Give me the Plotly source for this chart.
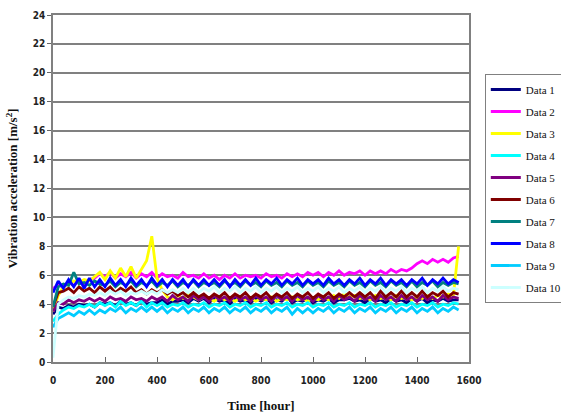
import plotly.graph_objects as go

# Time axis (hours), sampled every 20 h
time_h = list(range(0, 1561, 20))

data1 = [3.3, 3.8, 3.7, 3.9, 3.8, 4.0, 3.9, 4.0, 3.8, 4.1,
         4.0, 4.1, 3.9, 4.2, 4.0, 4.1, 3.9, 4.2, 4.0, 4.1,
         4.1, 4.3, 4.0, 4.2, 4.2, 4.3, 4.1, 4.4, 4.2, 4.4,
         4.1, 4.4, 4.2, 4.3, 4.0, 4.4, 4.2, 4.3, 4.1, 4.4,
         4.2, 4.4, 4.1, 4.3, 4.2, 4.5, 4.1, 4.3, 4.2, 4.4,
         4.1, 4.3, 4.2, 4.4, 4.1, 4.3, 4.3, 4.4, 4.2, 4.3,
         4.1, 4.4, 4.2, 4.3, 4.1, 4.4, 4.2, 4.3, 4.1, 4.4,
         4.2, 4.4, 4.1, 4.3, 4.2, 4.4, 4.2, 4.3, 4.3]
data2 = [5.1, 5.3, 5.2, 5.5, 5.3, 5.6, 5.4, 5.7, 5.8, 6.1,
         5.9, 6.2, 5.8, 6.1, 5.9, 6.2, 5.8, 6.1, 5.9, 6.2,
         5.8, 6.1, 5.9, 6.0, 5.8, 6.2, 5.9, 6.0, 5.8, 6.1,
         5.8, 6.0, 5.7, 6.0, 5.8, 6.1, 5.8, 6.0, 5.9, 6.0,
         5.8, 6.1, 5.9, 6.0, 5.8, 6.1, 5.9, 6.1, 5.9, 6.2,
         6.0, 6.2, 5.9, 6.2, 6.0, 6.3, 6.0, 6.2, 6.1, 6.3,
         6.0, 6.3, 6.1, 6.3, 6.1, 6.4, 6.2, 6.4, 6.3, 6.5,
         6.8, 7.0, 6.8, 7.1, 6.9, 7.1, 6.9, 7.2, 7.3]
data3 = [3.5, 4.6, 5.2, 5.4, 5.6, 5.5, 5.7, 5.6, 5.9, 6.2,
         5.7, 6.3, 5.8, 6.5, 5.9, 6.6, 5.8, 6.4, 7.0, 8.7,
         5.8, 5.0, 4.5, 4.3, 4.6, 4.4, 4.7, 4.5, 4.3, 4.5,
         4.4, 4.2, 4.5, 4.3, 4.4, 4.2, 4.5, 4.3, 4.4, 4.2,
         4.4, 4.3, 4.5, 4.2, 4.4, 4.3, 4.5, 4.3, 4.4, 4.2,
         4.4, 4.3, 4.5, 4.3, 4.6, 4.4, 4.7, 4.5, 4.6, 4.4,
         4.5, 4.3, 4.6, 4.4, 4.5, 4.3, 4.6, 4.4, 4.5, 4.3,
         4.5, 4.4, 4.6, 4.4, 4.6, 4.5, 4.7, 4.6, 8.0]
data4 = [2.8, 3.3, 3.6, 3.8, 3.7, 3.9, 3.8, 4.0, 3.8, 4.1,
         3.9, 4.1, 3.8, 4.2, 3.9, 4.1, 3.9, 4.2, 3.8, 4.1,
         3.9, 4.1, 3.8, 4.0, 3.9, 4.1, 3.8, 4.0, 3.9, 4.1,
         3.8, 4.0, 3.9, 4.1, 3.8, 4.0, 3.9, 4.1, 3.8, 4.0,
         3.9, 4.1, 3.8, 4.0, 3.9, 4.1, 3.8, 4.0, 3.9, 4.1,
         3.8, 4.0, 3.9, 4.1, 3.8, 4.0, 3.9, 4.1, 3.8, 4.0,
         3.9, 4.1, 3.8, 4.0, 3.9, 4.1, 3.8, 4.0, 3.9, 4.1,
         3.8, 4.0, 3.9, 4.1, 3.8, 4.0, 3.9, 4.1, 4.0]
data5 = [3.5, 4.1, 4.0, 4.3, 4.1, 4.3, 4.2, 4.4, 4.2, 4.4,
         4.2, 4.5, 4.3, 4.4, 4.2, 4.5, 4.3, 4.4, 4.2, 4.5,
         4.3, 4.5, 4.2, 4.6, 4.3, 4.5, 4.2, 4.6, 4.3, 4.5,
         4.2, 4.6, 4.3, 4.5, 4.2, 4.6, 4.3, 4.5, 4.2, 4.6,
         4.3, 4.5, 4.2, 4.6, 4.3, 4.5, 4.2, 4.6, 4.3, 4.5,
         4.2, 4.6, 4.3, 4.5, 4.2, 4.6, 4.3, 4.5, 4.2, 4.6,
         4.3, 4.5, 4.2, 4.6, 4.3, 4.5, 4.2, 4.6, 4.3, 4.5,
         4.2, 4.6, 4.3, 4.5, 4.2, 4.6, 4.3, 4.5, 4.4]
data6 = [3.8, 4.8, 4.9, 5.1, 4.8, 5.2, 4.9, 5.1, 4.8, 5.2,
         4.9, 5.2, 4.8, 5.1, 4.9, 5.2, 4.8, 5.0, 4.7, 5.0,
         4.8, 5.0, 4.7, 4.9, 4.6, 4.8, 4.5, 4.8, 4.5, 4.7,
         4.4, 4.7, 4.5, 4.8, 4.4, 4.7, 4.5, 4.8, 4.4, 4.7,
         4.5, 4.8, 4.4, 4.7, 4.5, 4.8, 4.4, 4.7, 4.5, 4.8,
         4.4, 4.7, 4.5, 4.8, 4.4, 4.7, 4.5, 4.8, 4.5, 4.8,
         4.5, 4.8, 4.4, 4.9, 4.5, 4.8, 4.5, 4.9, 4.5, 4.8,
         4.5, 4.9, 4.5, 4.8, 4.6, 4.9, 4.5, 4.8, 4.7]
data7 = [3.8, 5.2, 5.4, 5.3, 6.2, 5.4, 5.5, 5.3, 5.6, 5.4,
         5.3, 5.6, 5.2, 5.5, 5.3, 5.6, 5.2, 5.5, 5.3, 5.6,
         5.2, 5.5, 5.3, 5.6, 5.2, 5.5, 5.3, 5.6, 5.2, 5.5,
         5.3, 5.5, 5.2, 5.6, 5.3, 5.5, 5.2, 5.6, 5.3, 5.5,
         5.2, 5.6, 5.3, 5.5, 5.2, 5.6, 5.3, 5.5, 5.2, 5.6,
         5.3, 5.5, 5.2, 5.6, 5.3, 5.5, 5.2, 5.6, 5.3, 5.5,
         5.2, 5.6, 5.3, 5.5, 5.2, 5.6, 5.3, 5.5, 5.2, 5.6,
         5.2, 5.5, 5.3, 5.6, 5.2, 5.5, 5.3, 5.5, 5.4]
data8 = [4.8, 5.6, 5.1, 5.7, 5.2, 5.8, 5.1, 5.8, 5.2, 5.7,
         5.2, 5.8, 5.3, 5.7, 5.2, 5.8, 5.3, 5.7, 5.2, 5.8,
         5.3, 5.7, 5.2, 5.7, 5.3, 5.7, 5.2, 5.7, 5.3, 5.7,
         5.3, 5.7, 5.3, 5.7, 5.2, 5.7, 5.3, 5.7, 5.3, 5.8,
         5.3, 5.7, 5.4, 5.8, 5.3, 5.7, 5.4, 5.8, 5.3, 5.7,
         5.4, 5.7, 5.3, 5.8, 5.4, 5.7, 5.3, 5.7, 5.4, 5.8,
         5.3, 5.7, 5.4, 5.8, 5.3, 5.7, 5.4, 5.7, 5.3, 5.7,
         5.4, 5.8, 5.3, 5.7, 5.4, 5.8, 5.4, 5.7, 5.5]
data9 = [2.4, 3.0, 3.2, 3.4, 3.2, 3.5, 3.3, 3.6, 3.3, 3.6,
         3.4, 3.7, 3.5, 3.8, 3.4, 3.7, 3.5, 3.8, 3.5, 3.8,
         3.5, 3.8, 3.4, 3.7, 3.5, 3.8, 3.4, 3.7, 3.5, 3.8,
         3.4, 3.7, 3.5, 3.8, 3.4, 3.7, 3.5, 3.8, 3.4, 3.7,
         3.5, 3.8, 3.4, 3.7, 3.5, 3.8, 3.3, 3.7, 3.4, 3.7,
         3.4, 3.7, 3.5, 3.8, 3.4, 3.7, 3.5, 3.8, 3.4, 3.7,
         3.5, 3.8, 3.4, 3.7, 3.5, 3.8, 3.4, 3.7, 3.5, 3.8,
         3.4, 3.7, 3.5, 3.8, 3.4, 3.7, 3.5, 3.8, 3.6]
data10 = [0.3, 4.0, 4.3, 4.5, 4.4, 4.6, 4.5, 4.7, 4.6, 4.8,
          4.6, 4.9, 4.7, 4.9, 4.6, 4.8, 4.7, 4.9, 4.7, 4.9,
          4.7, 5.0, 4.8, 5.0, 4.8, 5.1, 4.8, 5.1, 4.8, 5.1,
          4.9, 5.2, 4.8, 5.1, 4.9, 5.2, 4.8, 5.1, 4.9, 5.2,
          4.8, 5.1, 4.9, 5.2, 4.8, 5.1, 4.9, 5.2, 4.8, 5.1,
          4.9, 5.2, 4.8, 5.1, 4.9, 5.2, 4.8, 5.1, 4.9, 5.2,
          4.8, 5.1, 4.9, 5.2, 4.8, 5.1, 4.9, 5.2, 4.8, 5.1,
          4.9, 5.2, 4.8, 5.1, 4.9, 5.2, 4.9, 5.1, 5.0]

series_names = ["Data 1", "Data 2", "Data 3", "Data 4", "Data 5",
                "Data 6", "Data 7", "Data 8", "Data 9", "Data 10"]
series_values = [data1, data2, data3, data4, data5,
                 data6, data7, data8, data9, data10]
series_colors = ["#000080", "#FF00FF", "#FFFF00", "#00FFFF", "#800080",
                 "#800000", "#008080", "#0000FF", "#00CCFF", "#CCFFFF"]

x_ticks = [0, 200, 400, 600, 800, 1000, 1200, 1400, 1600]
y_ticks = list(range(0, 25, 2))

fig = go.Figure()
for name, vals, col in zip(series_names, series_values, series_colors):
    fig.add_trace(go.Scatter(x=time_h, y=vals, name=name, mode="lines",
                             legendgroup=name,
                             line=dict(color=col, width=2.8)))

tick_font = dict(family="DejaVu Sans Condensed, Liberation Sans Narrow, sans-serif",
                 size=10, color="#222222", weight="bold")
title_font = dict(family="Liberation Serif, Times New Roman, serif", size=13,
                  color="#111111", weight="bold")

fig.update_layout(
    width=561, height=416,
    margin=dict(l=53, r=92, t=15, b=54, autoexpand=False),
    paper_bgcolor="white", plot_bgcolor="white",
    showlegend=True,
    legend=dict(x=1.038, y=0.83, xanchor="left", yanchor="top",
                bgcolor="white", bordercolor="#808080", borderwidth=1,
                font=dict(family="Liberation Serif, Times New Roman, serif",
                          size=11, color="#111111"),
                tracegroupgap=3),
)
fig.update_xaxes(range=[0, 1600], tickvals=x_ticks, ticks="inside", ticklen=5,
                 tickcolor="#666666", showgrid=False, zeroline=False,
                 showline=True, linecolor="#808080", linewidth=1.5, mirror=True,
                 tickfont=tick_font, ticklabelstandoff=8,
                 title=dict(text="Time [hour]", font=title_font, standoff=16))
fig.update_yaxes(range=[0, 24], tickvals=y_ticks, ticks="outside", ticklen=4,
                 tickcolor="#666666", showgrid=True, gridcolor="#808080", gridwidth=1.5,
                 zeroline=False, showline=True, linecolor="#808080", linewidth=1.5,
                 mirror=True, tickfont=tick_font,
                 title=dict(text="Vibration acceleration [m/s<sup>2</sup>]",
                            font=title_font, standoff=12))

fig.write_html("out.html")
